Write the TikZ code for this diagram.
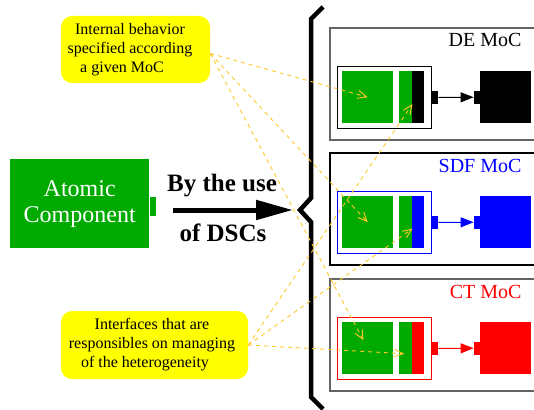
\documentclass[tikz,border=0pt]{standalone}
\usepackage{fontspec}
\setmainfont{Liberation Serif}
\usepackage{tikz}
\usetikzlibrary{arrows,arrows.meta}
\usetikzlibrary{positioning}
\usetikzlibrary{calc}
\definecolor{acgreen}{RGB}{0,170,0}
\definecolor{noteyellow}{RGB}{255,255,0}
\definecolor{linkyellow}{RGB}{255,200,40}
\definecolor{framegray}{RGB}{100,100,100}

\tikzset{
  note/.style={fill=noteyellow, rounded corners=11pt, minimum width=149, minimum height=67,
    align=center, inner sep=0pt, font=\fontsize{16}{19}\selectfont},
  blk/.style={fill=#1, inner sep=0pt, minimum width=51, minimum height=52, anchor=north west},
  port/.style={fill=#1, inner sep=0pt, minimum width=6, minimum height=13},
  link/.style={draw=linkyellow, line width=0.9pt, dash pattern=on 4pt off 4pt,
    -{Straight Barb[length=9pt,width=8pt]}},
}

\begin{document}
\begin{tikzpicture}[line join=miter,x=1pt,y=-1pt]
\useasboundingbox (0,0) rectangle (534,409);
\clip (0,0) rectangle (534,409);
% callouts
\node[note] (tc) at (135.5,49.5) {};
\node[align=center, font=\fontsize{16}{19}\selectfont] (tc-txt) at (130,49.5) {Internal behavior\\specified according\\a given MoC\hspace*{16pt}};
\node[note, minimum width=187, minimum height=68] (bc) at (154.5,345) {};
\node[align=center, font=\fontsize{16}{19}\selectfont] (bc-txt) at (152,345) {Interfaces that are\\responsibles on managing\\of the heterogeneity\hspace*{14pt}};
% atomic component
\node[blk=acgreen, minimum width=139, minimum height=89, text=white, align=center,
  font=\fontsize{24}{26}\selectfont] (ac) at (10,159) {Atomic\\Component};
\node[port=acgreen, anchor=west, minimum height=19] (acp) at ($(ac.east)+(0,3)$) {};
% arrow and brace
\coordinate (arr-s) at (173,210);
\coordinate (brace-tip) at (300,210);
\draw[line width=5pt, -{Triangle[length=37pt,width=19pt]}] (arr-s) -- ([xshift=-7pt]brace-tip);
\node[font=\bfseries\fontsize{25}{30}\selectfont, anchor=base] (use1) at (222,191) {By the use};
\node[font=\bfseries\fontsize{25}{30}\selectfont, anchor=base] (use2) at (223,241) {of DSCs};
\draw[line width=4.5pt] (323,7) -- (311,19) -- (311,198) -- (brace-tip) -- (311,222) -- (311,397) -- (323,409);
% models of computation
\foreach \ty/\col/\frm/\lab/\nm in {28/black/framegray/DE MoC/de, 153/blue/black/SDF MoC/sdf, 279/red/framegray/CT MoC/ct}{
  \draw[draw=\frm, line width=1.5pt] (330,\ty) rectangle (560,\ty+112);
  \node[anchor=base east, text=\col, font=\fontsize{20}{24}\selectfont] (\nm-lab) at (525,\ty+19) {\lab};
  \node[draw=\col, line width=1pt, fill=white, inner sep=0pt, minimum width=94, minimum height=62,
    anchor=north west] (\nm-box) at (337,\ty+38) {};
  \node[blk=acgreen] (\nm-in) at (342,\ty+43) {};
  \node[blk=acgreen, minimum width=13] (\nm-if) at (399,\ty+43) {};
  \node[blk=\col, minimum width=12] (\nm-st) at (412,\ty+43) {};
  \node[blk=\col] (\nm-tg) at (480,\ty+43) {};
  \node[port=\col, anchor=west] (\nm-p1) at (\nm-box.east) {};
  \node[port=\col, anchor=east] (\nm-p2) at (\nm-tg.west) {};
  \draw[\col, line width=1pt, -{Triangle[length=13pt,width=10pt]}] (\nm-p1) -- (\nm-p2);
}
% links from the notes
\draw[link] ([yshift=-4pt]tc.east) -- (de-in.center);
\draw[link] ([yshift=-4pt]tc.east) -- (sdf-in.center);
\draw[link, shorten >=9pt] ([yshift=-4pt]tc.east) -- (ct-in.center);
\draw[link] (bc.east) -- ($(de-if.east)+(0,7)$);
\draw[link] (bc.east) -- ($(sdf-if.east)+(0,6.5)$);
\draw[link] (bc.east) -- ($(ct-if.center)+(-1.5,5.5)$);
\end{tikzpicture}
\end{document}
